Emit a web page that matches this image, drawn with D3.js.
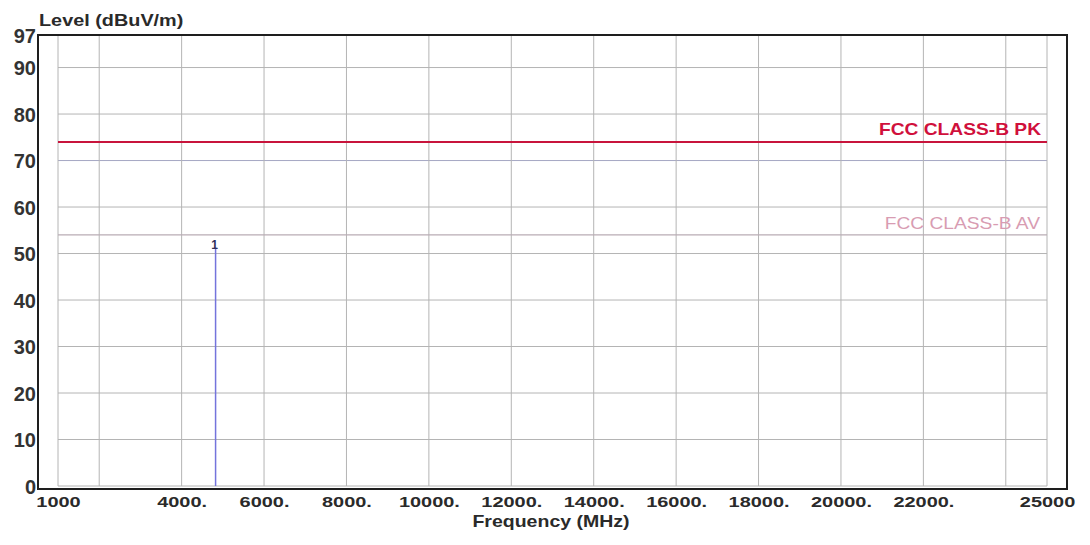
<!DOCTYPE html>
<html>
<head>
<meta charset="utf-8">
<script src="https://cdnjs.cloudflare.com/ajax/libs/d3/7.8.2/d3.min.js"></script>
<style>
  body { margin: 0; background: #fff; }
  svg { display: block; font-family: "Liberation Sans", Arial, sans-serif; }
  .grid line { stroke: #b4b4b4; stroke-width: 1; }
</style>
</head>
<body>
<svg id="chart" width="1090" height="545"></svg>
<script>
// data
const yTickValues = [0, 10, 20, 30, 40, 50, 60, 70, 80, 90, 97];
const xGridValues = [2000, 4000, 6000, 8000, 10000, 12000, 14000, 16000, 18000, 20000, 22000, 24000];
const xLabelValues = [1000, 4000, 6000, 8000, 10000, 12000, 14000, 16000, 18000, 20000, 22000, 25000];
const xLabelTexts = ['1000', '4000.', '6000.', '8000.', '10000.', '12000.', '14000.', '16000.', '18000.', '20000.', '22000.', '25000'];

const limitNames = ['FCC CLASS-B PK', 'FCC CLASS-B AV'];
const limitLevels = [74, 54];

const peakFreqs = [4824];
const peakLevels = [51.3];
const peakLabels = ['1'];

const PLOT = { left: 58, right: 1047, top: 35, bottom: 486 };
const FRAME = { left: 38, right: 1067, top: 35, bottom: 489 };

const $svg = d3.select('#chart');

const x = d3.scaleLinear().domain([1000, 25000]).range([PLOT.left, PLOT.right]);
const y = d3.scaleLinear().domain([0, 97]).range([PLOT.bottom, PLOT.top]);

// grid
const grid = $svg.append('g').attr('class', 'grid');
grid.selectAll('.hg')
    .data(yTickValues)
    .enter().append('line')
    .attr('class', 'hg')
    .attr('x1', PLOT.left).attr('x2', PLOT.right)
    .attr('y1', d => y(d)).attr('y2', d => y(d))
    .style('stroke', d => d === 70 ? '#a6a8c4' : null);
grid.selectAll('.vg')
    .data([1000].concat(xGridValues, [25000]))
    .enter().append('line')
    .attr('class', 'vg')
    .attr('x1', d => x(d)).attr('x2', d => x(d))
    .attr('y1', PLOT.top).attr('y2', PLOT.bottom);

// limit lines
$svg.append('line')
    .attr('x1', PLOT.left).attr('x2', PLOT.right)
    .attr('y1', y(limitLevels[1])).attr('y2', y(limitLevels[1]))
    .attr('stroke', '#b9acb4').attr('stroke-width', 1.2);
$svg.append('line')
    .attr('x1', PLOT.left).attr('x2', PLOT.right)
    .attr('y1', y(limitLevels[0])).attr('y2', y(limitLevels[0]))
    .attr('stroke', '#c8143c').attr('stroke-width', 2);

$svg.append('text')
    .attr('transform', `translate(${1041}, ${y(limitLevels[0]) - 7}) scale(1.2,1)`)
    .attr('text-anchor', 'end')
    .attr('font-size', 16)
    .attr('font-weight', 'bold')
    .attr('fill', '#d0103c')
    .text(limitNames[0]);
$svg.append('text')
    .attr('transform', `translate(${1040}, ${y(limitLevels[1]) - 6}) scale(1.2,1)`)
    .attr('text-anchor', 'end')
    .attr('font-size', 16)
    .attr('fill', '#d89cb2')
    .text(limitNames[1]);

// peak markers
const peaks = $svg.selectAll('.peak')
    .data(peakFreqs.map((f, i) => ({ f, level: peakLevels[i], label: peakLabels[i] })))
    .enter().append('g')
    .attr('class', 'peak');
peaks.append('line')
    .attr('x1', d => x(d.f)).attr('x2', d => x(d.f))
    .attr('y1', y(0)).attr('y2', d => y(d.level))
    .attr('stroke', '#7474dc').attr('stroke-width', 1.5);
peaks.append('text')
    .attr('x', d => x(d.f) - 1)
    .attr('y', d => y(d.level) + 2)
    .attr('text-anchor', 'middle')
    .attr('font-size', 12)
    .attr('font-weight', 'bold')
    .attr('fill', '#30305a')
    .text(d => d.label);

// frame
$svg.append('rect')
    .attr('x', FRAME.left).attr('y', FRAME.top)
    .attr('width', FRAME.right - FRAME.left)
    .attr('height', FRAME.bottom - FRAME.top)
    .attr('fill', 'none')
    .attr('stroke', '#1e1e1e')
    .attr('stroke-width', 2);

// y axis labels
const yAxis = $svg.append('g')
    .attr('transform', `translate(${FRAME.left - 2},0)`)
    .call(d3.axisLeft(y).tickValues(yTickValues).tickSize(0).tickPadding(0).tickFormat(d3.format('d')));
yAxis.select('.domain').remove();
yAxis.selectAll('text')
    .attr('font-size', 20)
    .attr('font-weight', 'bold')
    .attr('font-family', '"Liberation Sans", Arial, sans-serif')
    .attr('fill', '#333')
    .attr('dy', '0.36em');

// x axis labels
const xAxis = $svg.append('g')
    .attr('transform', `translate(0,${FRAME.bottom})`)
    .call(d3.axisBottom(x).tickValues(xLabelValues).tickSize(0).tickPadding(0)
        .tickFormat((d, i) => xLabelTexts[i]));
xAxis.select('.domain').remove();
// text sits at x=0 inside each tick group, so the stretch keeps it centred
xAxis.selectAll('.tick text')
    .attr('y', 18)
    .attr('dy', 0)
    .attr('transform', 'scale(1.33,1)')
    .attr('font-size', 15)
    .attr('font-weight', 'bold')
    .attr('font-family', '"Liberation Sans", Arial, sans-serif')
    .attr('fill', '#2a2a2a');

// axis titles
$svg.append('text')
    .attr('transform', 'translate(39,26) scale(1.24,1)')
    .attr('font-size', 16)
    .attr('font-weight', 'bold')
    .attr('fill', '#2a2a2a')
    .text('Level (dBuV/m)');
$svg.append('text')
    .attr('transform', 'translate(551,527) scale(1.22,1)')
    .attr('text-anchor', 'middle')
    .attr('font-size', 16)
    .attr('font-weight', 'bold')
    .attr('fill', '#2a2a2a')
    .text('Frequency (MHz)');
</script>
</body>
</html>
